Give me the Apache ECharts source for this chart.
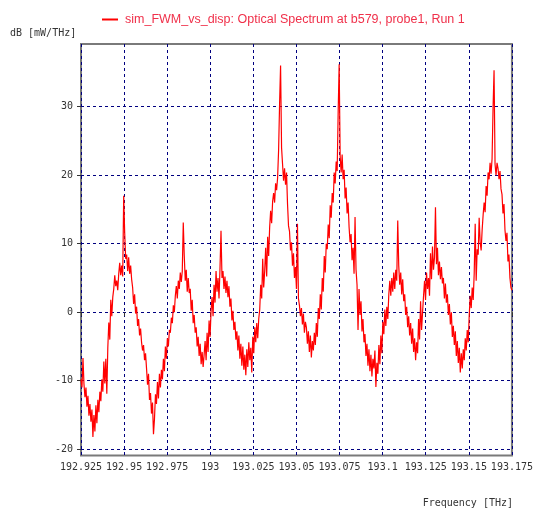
<!DOCTYPE html>
<html>
<head>
<meta charset="utf-8">
<script src="https://cdn.jsdelivr.net/npm/echarts@6/dist/echarts.min.js"></script>
<style>
html,body{margin:0;padding:0;background:#fff;}
#chart{width:536px;height:508px;}
</style>
</head>
<body>
<div id="chart"></div>
<script>
// Sampling grid of the spectrum (THz)
const freqStart = 192.925;
const freqEnd = 193.175;

// Spectrum power values (dB [mW/THz]), one per sample
const powerDb = [
  -9.8, -11.0, -6.7, -10.5, -12.4, -11.0, -13.8, -12.2, -15.1, -13.4,
  -16.0, -14.2, -18.2, -15.0, -17.4, -13.6, -16.2, -12.8, -14.6, -11.6,
  -13.0, -9.8, -11.6, -7.2, -10.4, -6.8, -11.9, -5.2, -1.5, -4.0,
  1.8, -0.6, 2.2, 3.4, 5.4, 3.8, 4.6, 3.2, 5.6, 7.2,
  5.4, 6.8, 5.2, 17.0, 11.6, 7.8, 8.4, 6.0, 8.0, 5.6,
  6.8, 4.8, 3.6, 1.2, 2.6, -0.2, 0.8, -2.0, -1.0, -3.4,
  -2.4, -4.4, -5.6, -4.8, -7.0, -6.0, -8.2, -10.6, -9.0, -12.8,
  -11.8, -14.8, -13.2, -17.8, -15.6, -12.0, -13.4, -10.2, -12.6, -9.0,
  -11.0, -8.4, -9.8, -6.8, -8.6, -5.0, -6.8, -3.8, -5.0, -2.6,
  -3.0, -0.8, -1.6, 1.0, 0.0, 2.4, 3.8, 2.0, 4.6, 3.4,
  5.8, 4.4, 6.0, 13.1, 8.2, 4.6, 6.2, 3.0, 5.0, 2.8,
  3.4, 0.2, 1.8, -1.6, -0.4, -3.0, -2.2, -5.0, -3.6, -6.4,
  -4.6, -7.6, -5.8, -8.0, -6.2, -4.2, -7.0, -3.0, -5.8, -1.2,
  -3.6, 0.2, 2.2, -0.6, 4.0, 1.4, 6.0, 3.0, 5.0, 2.0,
  6.4, 11.9, 5.0, 6.0, 3.4, 5.2, 2.8, 4.6, 2.2, 3.8,
  0.8, 2.0, -1.2, 0.2, -2.6, -1.4, -4.0, -2.8, -5.6, -3.4,
  -6.8, -4.6, -7.8, -5.0, -8.4, -6.2, -9.2, -5.4, -8.0, -4.4,
  -7.0, -5.2, -8.8, -3.6, -6.0, -2.2, -4.4, -1.6, -3.8, -1.0,
  0.4, 4.0, 2.0, 7.8, 3.6, 6.0, 9.4, 5.2, 11.0, 8.2,
  12.4, 14.8, 13.0, 16.2, 17.4, 16.0, 18.8, 17.8, 19.6, 23.6,
  30.4, 36.0, 24.0, 21.6, 19.2, 21.0, 18.6, 20.4, 15.8, 12.6,
  11.8, 9.0, 10.2, 6.8, 8.6, 5.0, 6.6, 3.4, 12.9, 2.0,
  1.0, -0.6, 0.6, -1.8, -0.2, -3.0, -1.4, -2.2, -4.6, -2.8,
  -5.8, -3.4, -6.6, -4.2, -5.6, -3.0, -4.8, -1.6, -3.6, 0.6,
  -1.0, 2.6, 0.4, 5.0, 3.0, 8.2, 5.8, 10.0, 9.2, 12.8,
  10.8, 15.6, 13.8, 17.4, 16.0, 20.4, 18.8, 22.0, 20.6, 29.2,
  36.2, 22.8, 20.4, 23.0, 19.4, 20.8, 16.6, 18.2, 14.4, 16.0,
  12.4, 10.2, 11.4, 7.6, 9.4, 5.6, 13.9, 6.2, 4.0, -2.6,
  3.4, -0.4, 1.6, -2.8, -1.0, -4.4, -3.2, -6.4, -4.6, -7.8,
  -5.4, -8.6, -6.2, -9.4, -6.8, -8.2, -5.6, -10.9, -7.4, -9.0,
  -4.8, -7.6, -3.4, -6.0, -1.4, -3.2, 0.4, -2.0, 0.8, -1.0,
  2.6, 4.6, 2.4, 5.0, 3.0, 5.8, 3.4, 6.2, 4.6, 13.4,
  6.8, 4.0, 5.8, 2.6, 4.8, 1.6, 2.6, -0.4, 0.8, -2.2,
  -0.6, -3.4, -1.6, -4.6, -2.4, -5.8, -3.8, -7.0, -4.4, -6.0,
  -1.0, -4.0, 1.6, -2.6, 0.0, 2.4, 4.6, 1.8, 5.8, 3.4,
  5.0, 2.4, 8.6, 4.8, 9.6, 6.2, 8.0, 15.3, 7.0, 9.4,
  5.4, 7.4, 4.8, 6.6, 4.2, 5.0, 2.0, 4.2, 1.4, 2.6,
  -0.4, 1.2, -1.8, 0.0, -3.6, -2.0, -4.8, -2.8, -6.4, -4.2,
  -7.4, -5.2, -8.8, -6.0, -8.2, -5.4, -7.0, -3.8, -5.6, -2.6,
  -4.4, -0.4, 2.4, 0.6, 3.6, 1.8, 5.6, 12.9, 4.6, 9.2,
  8.4, 13.8, 10.2, 9.0, 12.0, 14.2, 16.0, 14.6, 18.4, 17.0,
  20.4, 19.4, 21.8, 20.2, 22.4, 29.8, 35.3, 21.6, 20.0, 21.8,
  21.0, 19.4, 20.6, 18.0, 17.2, 14.4, 15.8, 12.0, 10.4, 11.6,
  7.4, 8.4, 5.0, 3.6, 3.2
];

// Tick labels
const xTicks = [192.925, 192.95, 192.975, 193, 193.025, 193.05, 193.075, 193.1, 193.125, 193.15, 193.175];
const yTicks = [-20, -10, 0, 10, 20, 30];
const yMin = -20.92;
const yMax = 39.15;

const seriesName = 'sim_FWM_vs_disp: Optical Spectrum at b579, probe1, Run 1';
const yTitle = 'dB [mW/THz]';
const xTitle = 'Frequency [THz]';

const step = (freqEnd - freqStart) / (powerDb.length - 1);
const seriesData = powerDb.map((v, i) => [freqStart + i * step, v]);

const mono = '"DejaVu Sans Mono", "Liberation Mono", monospace';
const gridLine = { show: true, lineStyle: { color: '#000080', type: [3, 3], width: 1 } };

const chart = echarts.init(document.getElementById('chart'), null, { renderer: 'canvas' });
chart.setOption({
  animation: false,
  backgroundColor: '#ffffff',
  title: [
    { text: yTitle, left: 10, top: 28, padding: 0, textStyle: { fontFamily: mono, fontSize: 10, fontWeight: 'normal', color: '#333' } },
    { text: xTitle, right: 23, top: 498, padding: 0, textStyle: { fontFamily: mono, fontSize: 10, fontWeight: 'normal', color: '#333' } }
  ],
  legend: {
    left: 97, top: 8,
    itemWidth: 16, itemHeight: 2, itemGap: 6,
    icon: 'rect',
    data: [seriesName],
    textStyle: { color: '#f0304a', fontSize: 12.5, fontFamily: '"Liberation Sans", Arial, sans-serif', padding: [0, 0, 0, 2] }
  },
  grid: { left: 81, right: 21, top: 44, bottom: 52.5, show: true, borderColor: '#7a7a7a', borderWidth: 2, backgroundColor: 'transparent', containLabel: false },
  xAxis: {
    type: 'value', min: freqStart, max: freqEnd,
    axisLine: { show: false },
    axisTick: { show: true, inside: false, length: 4, lineStyle: { color: '#333' }, customValues: xTicks },
    axisLabel: { customValues: xTicks, color: '#333', fontFamily: mono, fontSize: 10, margin: 7,
      formatter: v => String(Number(v.toFixed(3))) },
    splitLine: gridLine
  },
  yAxis: {
    type: 'value', min: yMin, max: yMax,
    axisLine: { show: false },
    axisTick: { show: true, inside: false, length: 4, lineStyle: { color: '#333' }, customValues: yTicks },
    axisLabel: { customValues: yTicks, color: '#333', fontFamily: mono, fontSize: 10, margin: 8 },
    splitLine: gridLine
  },
  series: [{
    name: seriesName,
    type: 'line',
    data: seriesData,
    showSymbol: false,
    symbol: 'none',
    sampling: null,
    color: '#ff0000',
    lineStyle: { color: '#ff0000', width: 1.2 },
    z: 3
  }]
});
</script>
</body>
</html>
